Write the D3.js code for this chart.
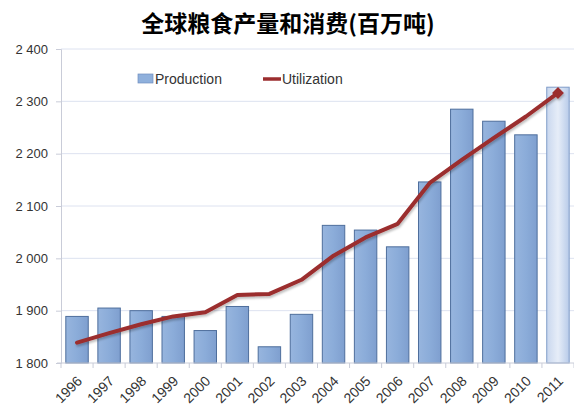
<!DOCTYPE html>
<html><head><meta charset="utf-8">
<script src="https://cdn.jsdelivr.net/npm/d3@7/dist/d3.min.js"></script>
<style>body{margin:0;background:#fff;} svg{display:block;}</style>
</head><body>
<script>
const years = ["1996","1997","1998","1999","2000","2001","2002","2003","2004","2005","2006","2007","2008","2009","2010","2011"];
const production = [1889,1905,1900,1889,1862,1908,1831,1893,2063,2054,2022,2146,2285,2262,2236,2327];
const utilization = [1839,1857,1874,1889,1897,1930,1932,1959,2005,2040,2066,2144,2188,2230,2271,2316];
const yTicks = [1800,1900,2000,2100,2200,2300,2400];
const title = "全球粮食产量和消费(百万吨)";
const legendLabels = ["Production","Utilization"];

const W=574,H=409;
const m={l:61,r:0,t:49,b:46};
const svg=d3.select("body").append("svg").attr("width",W).attr("height",H);
const defs=svg.append("defs");
const g1=defs.append("linearGradient").attr("id","barG").attr("x1","0").attr("x2","1");
g1.append("stop").attr("offset","0").attr("stop-color","#97b5de");
g1.append("stop").attr("offset","0.5").attr("stop-color","#8bacd9");
g1.append("stop").attr("offset","1").attr("stop-color","#7f9fcf");
const g2=defs.append("linearGradient").attr("id","barL").attr("x1","0").attr("x2","1");
g2.append("stop").attr("offset","0").attr("stop-color","#c9d7ee");
g2.append("stop").attr("offset","0.5").attr("stop-color","#e6edf8");
g2.append("stop").attr("offset","1").attr("stop-color","#b8cbe9");
const f=defs.append("filter").attr("id","sh").attr("x","-10%").attr("y","-10%").attr("width","120%").attr("height","130%");
f.append("feDropShadow").attr("dx",1).attr("dy",2).attr("stdDeviation",1.2).attr("flood-color","#000").attr("flood-opacity",0.25);

const x=d3.scaleBand().domain(years).range([m.l,W-m.r]).paddingInner(0.3).paddingOuter(0.15);
const y=d3.scaleLinear().domain([1800,2400]).range([H-m.b,m.t]);

// grid
svg.append("g").selectAll("line").data(yTicks.slice(1)).join("line")
  .attr("x1",m.l).attr("x2",W).attr("y1",d=>y(d)).attr("y2",d=>y(d))
  .attr("stroke","#dde2f0").attr("stroke-width",1);

// y axis
const ya=svg.append("g").attr("transform",`translate(${m.l},0)`)
  .call(d3.axisLeft(y).tickValues(yTicks).tickSize(5).tickPadding(8)
  .tickFormat(d=>d3.format(",")(d).replace(","," ")));
ya.select(".domain").attr("stroke","#c9ccd8");
ya.selectAll(".tick line").attr("stroke","#c9ccd8");
ya.selectAll("text").attr("font-family","Liberation Sans, Arial, sans-serif").attr("font-size",13).attr("fill","#333");

// bars
svg.append("g").selectAll("rect").data(years).join("rect")
  .attr("x",d=>x(d)).attr("width",x.bandwidth())
  .attr("y",(d,i)=>y(production[i])).attr("height",(d,i)=>y(1800)-y(production[i]))
  .attr("fill",(d,i)=>i===years.length-1?"url(#barL)":"url(#barG)")
  .attr("stroke",(d,i)=>i===years.length-1?"#7f9cc8":"#4e6e9c").attr("stroke-width",1);

// x axis
const step=x.step();
const xa=svg.append("g").attr("transform",`translate(0,${y(1800)})`);
xa.append("line").attr("x1",m.l-4).attr("x2",W).attr("stroke","#c9ccd8");
xa.selectAll("line.t").data(d3.range(years.length+1)).join("line").attr("class","t")
  .attr("x1",i=>m.l+i*step).attr("x2",i=>m.l+i*step).attr("y1",0).attr("y2",5).attr("stroke","#c9ccd8");
xa.selectAll("text").data(years).join("text")
  .attr("transform",d=>`translate(${x(d)+x.bandwidth()/2+6},${19}) rotate(-45)`)
  .attr("text-anchor","end").attr("font-family","Liberation Sans, Arial, sans-serif").attr("font-size",14).attr("fill","#333")
  .text(d=>d);

// line
const line=d3.line().x((d,i)=>x(years[i])+x.bandwidth()/2).y(d=>y(d));
const lg=svg.append("g").attr("filter","url(#sh)");
lg.append("path").datum(utilization).attr("d",line).attr("fill","none")
  .attr("stroke","#9b2d2e").attr("stroke-width",4).attr("stroke-linejoin","round").attr("stroke-linecap","round");
const last=utilization.length-1;
lg.append("path").attr("d",d3.symbol(d3.symbolSquare,70)())
  .attr("transform",`translate(${x(years[last])+x.bandwidth()/2},${y(utilization[last])}) rotate(45)`).attr("fill","#9b2d2e");

// legend
const leg=svg.append("g");
leg.append("rect").attr("x",138).attr("y",74).attr("width",15).attr("height",9).attr("fill","#8fb0dc").attr("stroke","#6f8fbf").attr("stroke-width",0.7);
leg.append("text").attr("x",155).attr("y",84).text(legendLabels[0]);
leg.append("line").attr("x1",263).attr("x2",281).attr("y1",79).attr("y2",79).attr("stroke","#9b2d2e").attr("stroke-width",3.5);
leg.append("text").attr("x",282).attr("y",84).text(legendLabels[1]);
leg.selectAll("text").attr("font-family","Liberation Sans, Arial, sans-serif").attr("font-size",14).attr("fill","#333");

// title
svg.append("text").attr("x",288).attr("y",32).attr("text-anchor","middle")
  .attr("font-family","Noto Sans CJK SC, sans-serif").attr("font-weight","bold").attr("font-size",23).attr("fill","#000")
  .text(title);
</script>
</body></html>
